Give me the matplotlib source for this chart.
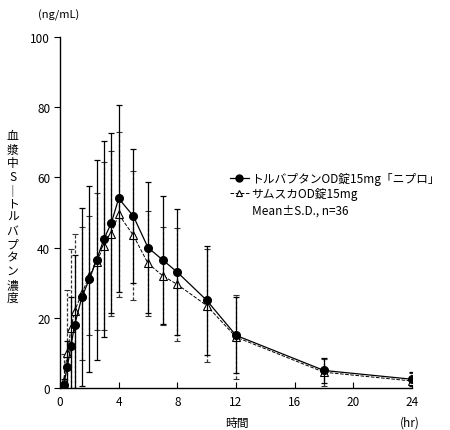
import numpy as np
import matplotlib
matplotlib.use("Agg")
import matplotlib.pyplot as plt
from matplotlib.lines import Line2D

plt.rcParams['font.family'] = ['Noto Sans CJK JP', 'DejaVu Sans']

# sampling times (hr)
times = [0, 0.25, 0.5, 0.75, 1, 1.5, 2, 2.5, 3, 3.5, 4, 5, 6, 7, 8, 10, 12, 18, 24]

# トルバプタンOD錠15mg「ニプロ」 (test)
test_mean = [0, 1, 6, 12, 18, 26, 31, 36.5, 42.5, 47, 54, 49, 40, 36.5, 33, 25, 15, 5, 2.5]
test_sd = [0, 1.5, 7.5, 14, 20, 25.3, 26.5, 28.5, 28, 25.6, 26.6, 19, 18.6, 18.2, 18, 15.5, 10.8, 3.5, 2]

# サムスカOD錠15mg (reference)
ref_mean = [0, 2, 10, 17, 22, 27, 32, 36, 40.5, 44, 49.5, 43.5, 35.5, 32, 29.5, 23.5, 14.5, 4.5, 2]
ref_sd = [0, 7.7, 18, 22.6, 22, 19, 17, 19.5, 24, 23.5, 23.5, 18.3, 14.9, 14, 16.1, 16, 12, 3.8, 2.3]

test_label = "トルバプタンOD錠15mg「ニプロ」"
ref_label = "サムスカOD錠15mg"

fig = plt.figure(figsize=(4.5, 4.31), dpi=100)
ax = fig.add_axes([0.1333, 0.0974, 0.7823, 0.8144])

# reference: dashed line, open triangles
eb_r = ax.errorbar(times, ref_mean, yerr=ref_sd, color='black', lw=0.7, ls='--',
                   marker='^', ms=5.5, mfc='white', mec='black', mew=0.8,
                   ecolor='#333333', elinewidth=0.9, capsize=2.5, capthick=0.9,
                   zorder=2)
eb_r[2][0].set_linestyle((0, (2.5, 1.5)))

# test: solid line, filled circles
ax.errorbar(times, test_mean, yerr=test_sd, color='black', lw=0.9, ls='-',
            marker='o', ms=5.5, mfc='black', mec='black',
            ecolor='black', elinewidth=0.9, capsize=2.5, capthick=0.9,
            zorder=3)

ax.set_xlim(0, 24)
ax.set_ylim(0, 100)
ax.set_xticks([0, 4, 8, 12, 16, 20, 24])
ax.set_yticks([0, 20, 40, 60, 80, 100])
ax.spines['top'].set_visible(False)
ax.spines['right'].set_visible(False)
ax.spines['left'].set_linewidth(1.0)
ax.spines['bottom'].set_linewidth(1.0)
ax.tick_params(axis='x', direction='in', length=4, labelsize=8.5, pad=5)
ax.tick_params(axis='y', direction='out', length=4, labelsize=8.5, pad=3)

# legend (line + marker only)
handles = [Line2D([], [], color='black', lw=0.9, ls='-', marker='o', ms=5, mfc='black'),
           Line2D([], [], color='black', lw=0.7, ls='--', marker='^', ms=5, mfc='white', mew=0.8)]
ax.legend(handles, [test_label, ref_label], loc='upper left', bbox_to_anchor=(0.483, 0.615),
          frameon=False, fontsize=8.5, handlelength=1.6, handletextpad=0.2,
          labelspacing=0.15, borderaxespad=0, borderpad=0)
fig.text(0.56, 0.51, "Mean±S.D., n=36", fontsize=8.5, va='center', ha='left')

# axis labels
fig.text(0.085, 0.965, "(ng/mL)", fontsize=8, va='center', ha='left')
ylabel_chars = "血漿中S｜トルバプタン濃度"
fig.text(0.028, 0.495, "\n".join(ylabel_chars), fontsize=8.5, va='center', ha='center',
         linespacing=1.05)
fig.text(0.527, 0.018, "時間", fontsize=8.5, va='center', ha='center')
fig.text(0.911, 0.018, "(hr)", fontsize=8.5, va='center', ha='center')

fig.savefig("out.png", dpi=100)
